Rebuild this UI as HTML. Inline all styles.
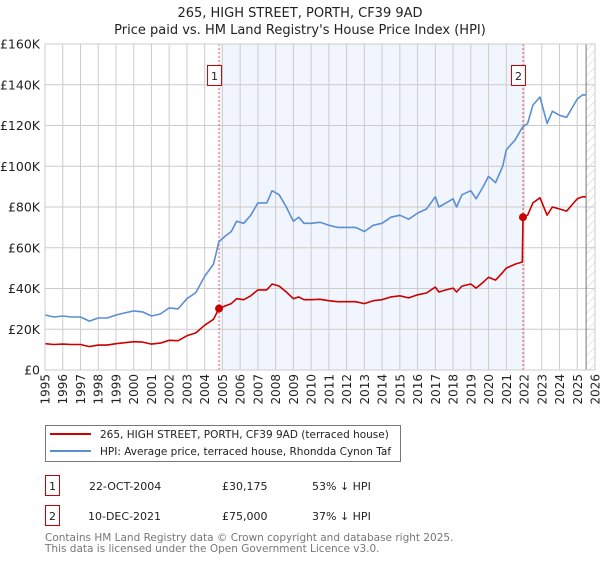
<!DOCTYPE html>
<html><head><meta charset="utf-8"><style>
body{margin:0;background:#fff;font-family:"DejaVu Sans","Liberation Sans",sans-serif;}
svg text{font-family:"DejaVu Sans","Liberation Sans",sans-serif;}
</style></head><body>
<svg id="chart" width="600" height="560" xmlns="http://www.w3.org/2000/svg">
<defs><pattern id="hatch" width="6" height="6" patternUnits="userSpaceOnUse" patternTransform="rotate(45)"><line x1="0" y1="0" x2="0" y2="6" stroke="#ccc" stroke-width="1"/></pattern></defs>
<text x="300" y="17" text-anchor="middle" font-size="13" fill="#222">265, HIGH STREET, PORTH, CF39 9AD</text>
<text x="300" y="34" text-anchor="middle" font-size="13" fill="#222">Price paid vs. HM Land Registry's House Price Index (HPI)</text>
<g id="plot"></g>
<g>
<rect x="45.5" y="425.5" width="355" height="36" fill="#fff" stroke="#777"/>
<line x1="50" y1="434" x2="91" y2="434" stroke="#cc0000" stroke-width="2"/>
<text x="100" y="438" font-size="10.5" fill="#222">265, HIGH STREET, PORTH, CF39 9AD (terraced house)</text>
<line x1="50" y1="451" x2="91" y2="451" stroke="#5b8fd4" stroke-width="2"/>
<text x="100" y="455" font-size="10.5" fill="#222">HPI: Average price, terraced house, Rhondda Cynon Taf</text>
</g>
<g>
<rect x="45.5" y="475.5" width="14" height="20" fill="#fff" stroke="#cc0000"/>
<text x="52.5" y="490" text-anchor="middle" font-size="11" fill="#222">1</text>
<text x="89" y="490" font-size="11" fill="#222">22-OCT-2004</text>
<text x="222" y="490" font-size="11" fill="#222">£30,175</text>
<text x="312" y="490" font-size="11" fill="#222">53% ↓ HPI</text>
</g>
<g>
<rect x="45.5" y="505.5" width="14" height="20" fill="#fff" stroke="#cc0000"/>
<text x="52.5" y="520" text-anchor="middle" font-size="11" fill="#222">2</text>
<text x="88" y="520" font-size="11" fill="#222">10-DEC-2021</text>
<text x="222" y="520" font-size="11" fill="#222">£75,000</text>
<text x="312" y="520" font-size="11" fill="#222">37% ↓ HPI</text>
</g>
<text x="45" y="541" font-size="10.5" fill="#777">Contains HM Land Registry data © Crown copyright and database right 2025.</text>
<text x="45" y="552" font-size="10.5" fill="#777">This data is licensed under the Open Government Licence v3.0.</text>
</svg>
<script>
const hpiYears=[1995,1995.5,1996,1996.5,1997,1997.5,1998,1998.5,1999,1999.5,2000,2000.5,2001,2001.5,2002,2002.5,2003,2003.5,2004,2004.5,2004.8,2005.2,2005.5,2005.8,2006.2,2006.6,2007,2007.5,2007.8,2008.2,2008.6,2009,2009.3,2009.6,2010,2010.5,2011,2011.5,2012,2012.5,2013,2013.5,2014,2014.5,2015,2015.5,2016,2016.5,2017,2017.2,2017.6,2018,2018.2,2018.5,2019,2019.3,2019.7,2020,2020.4,2020.8,2021,2021.5,2021.9,2022.2,2022.5,2022.9,2023.3,2023.6,2024,2024.4,2024.8,2025,2025.3,2025.5];
const hpiValues=[27,26,26.5,26,26,24,25.5,25.5,27,28,29,28.5,26.5,27.5,30.5,30,35,38,46,52,63,66,68,73,72,76,82,82,88,86,80,73,75,72,72,72.5,71,70,70,70,68,71,72,75,76,74,77,79,85,80,82,84,80,86,88,84,90,95,92,100,108,113,119,121,130,134,121,127,125,124,130,133,135,135];
const redYears=[1995,1995.5,1996,1996.5,1997,1997.5,1998,1998.5,1999,1999.5,2000,2000.5,2001,2001.5,2002,2002.5,2003,2003.5,2004,2004.5,2004.81,2005.2,2005.5,2005.8,2006.2,2006.6,2007,2007.5,2007.8,2008.2,2008.6,2009,2009.3,2009.6,2010,2010.5,2011,2011.5,2012,2012.5,2013,2013.5,2014,2014.5,2015,2015.5,2016,2016.5,2017,2017.2,2017.6,2018,2018.2,2018.5,2019,2019.3,2019.7,2020,2020.4,2020.8,2021,2021.5,2021.9,2021.94,2022.2,2022.5,2022.9,2023.3,2023.6,2024,2024.4,2024.8,2025,2025.3,2025.5];
const redValues=[12.9,12.5,12.7,12.5,12.5,11.5,12.2,12.2,12.9,13.4,13.9,13.7,12.7,13.2,14.6,14.4,16.8,18.2,22,24.9,30.2,31.6,32.6,35,34.5,36.4,39.3,39.3,42.2,41.2,38.3,35,35.9,34.5,34.5,34.7,34,33.5,33.5,33.5,32.6,34,34.5,35.9,36.4,35.4,36.9,37.8,40.7,38.3,39.3,40.2,38.3,41.2,42.2,40.2,43.1,45.5,44.1,47.9,50,52,53,75,76,82,84.5,76,80,79,78,82,84,85,85];
const saleYears=[2004.81,2021.94];
const saleValues=[30.175,75];
const saleLabels=["1","2"];
const yTicks=[0,20,40,60,80,100,120,140,160];
const yTickLabels=["£0","£20K","£40K","£60K","£80K","£100K","£120K","£140K","£160K"];
const xTicks=[1995,1996,1997,1998,1999,2000,2001,2002,2003,2004,2005,2006,2007,2008,2009,2010,2011,2012,2013,2014,2015,2016,2017,2018,2019,2020,2021,2022,2023,2024,2025,2026];

const L=45,R=595,T=44,B=370,X0=1995,X1=2026,YMAX=160;
const xs=y=>L+(y-X0)/(X1-X0)*(R-L);
const ys=v=>B-v/YMAX*(B-T);
const NS="http://www.w3.org/2000/svg";
const g=document.getElementById('plot');
function mk(t,a,p){const e=document.createElementNS(NS,t);for(const k in a)e.setAttribute(k,a[k]);(p||g).appendChild(e);return e;}

const sh=mk('rect',{x:xs(saleYears[0]),y:T,width:xs(saleYears[1])-xs(saleYears[0]),height:B-T,fill:'#eef3fc',opacity:0.8});


const ht=mk('rect',{x:xs(2025.5),y:T,width:R-xs(2025.5),height:B-T,fill:'url(#hatch)'});



xTicks.forEach(t=>{
  const l=mk('line',{x1:xs(t),x2:xs(t),y1:T,y2:B,stroke:'#ccc','stroke-width':1});
  
  
  const tx=mk('text',{x:0,y:0,'font-size':12,fill:'#222','text-anchor':'end',transform:`translate(${xs(t)+4.5},374) rotate(-90)`});
  tx.textContent=t;
  
  
});
yTicks.forEach((t,i)=>{
  const l=mk('line',{x1:L,x2:R,y1:ys(t),y2:ys(t),stroke:'#ccc','stroke-width':1});
  
  
  const tx=mk('text',{x:40,y:ys(t)+4.5,'font-size':12.5,fill:'#222','text-anchor':'end'});
  tx.textContent=yTickLabels[i];
  
  
});
const ln=mk('line',{x1:xs(2025.5),x2:xs(2025.5),y1:T,y2:B,stroke:'#777','stroke-width':1});



saleYears.forEach((s,i)=>{
  const l=mk('line',{x1:xs(s),x2:xs(s),y1:T,y2:B,stroke:'#e06060','stroke-width':1,'stroke-dasharray':'2,2'});
  
  
  const b=mk('rect',{x:xs(s)-11.5,y:65.5,width:14,height:20,fill:'#fff',stroke:'#cc0000'});
  
  
  const t=mk('text',{x:xs(s)-4.5,y:80,'font-size':11,'text-anchor':'middle',fill:'#222'});
  t.textContent=saleLabels[i];
  
  
});

function path(xa,va){return xa.map((x,i)=>(i?'L':'M')+xs(x).toFixed(1)+','+ys(va[i]).toFixed(1)).join('');}
const hp=mk('path',{d:path(hpiYears,hpiValues),fill:'none',stroke:'#5b8fd4','stroke-width':1.6,'stroke-linejoin':'round'});


const rp=mk('path',{d:path(redYears,redValues),fill:'none',stroke:'#cc0000','stroke-width':1.6,'stroke-linejoin':'round'});


saleYears.forEach((s,i)=>{
  const d=mk('circle',{cx:xs(s),cy:ys(saleValues[i]),r:4,fill:'#cc0000'});
  
  
});
const fr=mk('rect',{x:L,y:T,width:R-L,height:B-T,fill:'none',stroke:'#ccc'});


</script>
</body></html>
